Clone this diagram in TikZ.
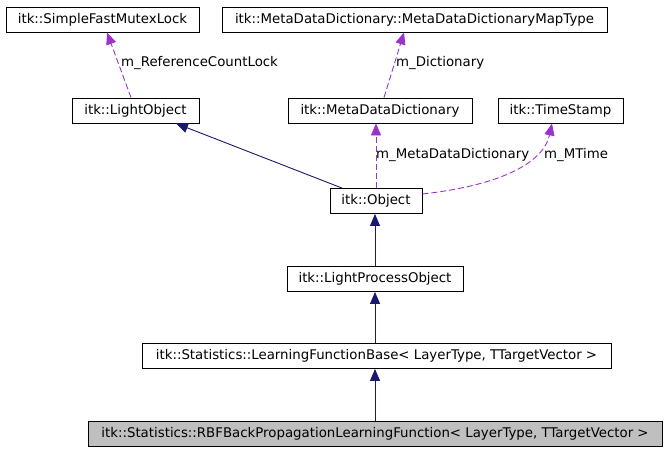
\documentclass[tikz,border=0pt]{standalone}
\usepackage{fontspec}
\setmainfont{DejaVu Sans}
\usetikzlibrary{arrows.meta,positioning}
\definecolor{inhcol}{HTML}{191970}
\definecolor{memcol}{HTML}{9A32CD}
\definecolor{curcol}{HTML}{BFBFBF}

\begin{document}
\begin{tikzpicture}[x=1pt, y=-1pt,
    font=\fontsize{13.33pt}{16pt}\selectfont,
    cls/.style={draw, line width=0.9pt, minimum height=25pt, inner sep=0pt},
    inherit/.style={draw=inhcol, line width=0.9pt, -{Triangle[length=12pt,width=10pt]}},
    member/.style={draw=memcol, line width=0.9pt, dashed, dash pattern=on 6pt off 3pt, -{Triangle[length=12pt,width=10pt]}},
    lbl/.style={anchor=west, inner sep=0pt}]
    \useasboundingbox (0,0) rectangle (667,451);
    \node[cls, minimum width=193pt] (mutex) at (102.5,19.5) {itk::SimpleFastMutexLock};
    \node[cls, minimum width=385pt] (maptype) at (414.5,19.5) {itk::MetaDataDictionary::MetaDataDictionaryMapType};
    \node[cls, minimum width=127pt] (light) at (135.5,110.5) {itk::LightObject};
    \node[cls, minimum width=184pt] (mdd) at (380,110.5) {itk::MetaDataDictionary};
    \node[cls, minimum width=125pt] (stamp) at (560.5,110.5) {itk::TimeStamp};
    \node[cls, minimum width=92pt] (obj) at (376,201) {itk::Object};
    \node[cls, minimum width=176pt] (lpo) at (375,279) {itk::LightProcessObject};
    \node[cls, minimum width=469pt] (lfb) at (376.5,356) {itk::Statistics::LearningFunctionBase< LayerType, TTargetVector >};
    \node[cls, fill=curcol, minimum width=574pt] (rbf) at (375,433.5) {itk::Statistics::RBFBackPropagationLearningFunction< LayerType, TTargetVector >};

    % members
    \draw[member] ([xshift=-4.5pt]light.north) -- ([xshift=4.5pt]mutex.south);
    \node[lbl] (lcount) at (121,63) {m\_ReferenceCountLock};
    \draw[member] ([xshift=4pt]mdd.north) -- ([xshift=-10.5pt]maptype.south);
    \node[lbl] (ldict) at (396,63) {m\_Dictionary};
    \draw[member] (obj.north) -- ([xshift=-4pt]mdd.south);
    \node[lbl] (lmdd) at (376,155) {m\_MetaDataDictionary};
    \draw[member] ([yshift=7pt]obj.east) .. controls (495,186) and (543,165) .. ([xshift=-8.5pt]stamp.south);
    \node[lbl] (ltime) at (544,155) {m\_MTime};

    % inheritance
    \draw[inherit] ([xshift=-34pt]obj.north) -- ([xshift=40.5pt]light.south);
    \draw[inherit] (lpo.north) -- (lpo.north |- obj.south);
    \draw[inherit] ([xshift=-1.5pt]lfb.north) -- (lpo.south);
    \draw[inherit] (rbf.north) -- (rbf.north |- lfb.south);
\end{tikzpicture}
\end{document}
